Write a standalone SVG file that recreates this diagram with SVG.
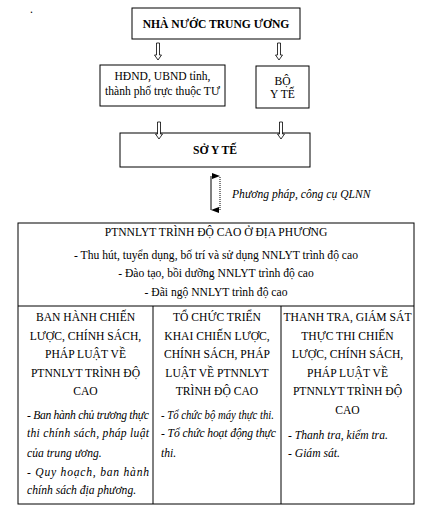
<svg xmlns="http://www.w3.org/2000/svg" width="431" height="515" viewBox="0 0 431 515">
<defs>
<style>
.box{fill:#fff;stroke:#000;stroke-width:1}
.t{font-size:11.6px;fill:#000}
.c{text-anchor:middle}
.b{font-weight:bold}
.i{font-style:italic}
.hollow{fill:#fff;stroke:#000;stroke-width:0.8}
</style>
<marker id="ah" viewBox="0 0 6 8" refX="3" refY="8" markerWidth="6" markerHeight="8" orient="auto-start-reverse" markerUnits="userSpaceOnUse">
<path d="M0,0 L3,8 L6,0 Z" fill="#000"/>
</marker>
<path id="hol" d="M-1.5,0 H1.5 V12 H3.5 L0,17 L-3.5,12 H-1.5 Z"/>
</defs>
<rect width="431" height="515" fill="#fff"/>
<g font-family="'Liberation Serif', 'Times New Roman', 'DejaVu Serif', serif">
<text class="t" x="30" y="13" font-size="8">.</text>

<g id="n_top">
<rect class="box" x="132" y="8" width="168" height="31"/>
<text class="t c b" x="216" y="28" font-size="11.4">NHÀ NƯỚC TRUNG ƯƠNG</text>
</g>
<g id="n_hdnd">
<rect class="box" x="100" y="65" width="125" height="41"/>
<text class="t c" x="162.5" y="80">HĐND, UBND tỉnh,</text>
<text class="t c" x="162.5" y="95">thành phố trực thuộc TƯ</text>
</g>
<g id="n_byt">
<rect class="box" x="256" y="66" width="53" height="42"/>
<text class="t c" x="282.5" y="85">BỘ</text>
<text class="t c" x="282.5" y="98">Y TẾ</text>
</g>
<g id="n_syt">
<rect class="box" x="120" y="133" width="190" height="34"/>
<text class="t c b" x="215" y="154" font-size="11.2">SỞ Y TẾ</text>
</g>

<g id="connectors">
<use href="#hol" class="hollow" x="158" y="43"/>
<use href="#hol" class="hollow" x="279" y="43"/>
<use href="#hol" class="hollow" x="159" y="122"/>
<use href="#hol" class="hollow" x="281" y="122"/>
<line x1="211" y1="176" x2="211" y2="210" stroke="#000" stroke-width="1" marker-end="url(#ah)"/>
<line x1="220" y1="210" x2="220" y2="176" stroke="#000" stroke-width="1" stroke-dasharray="1,1" marker-end="url(#ah)"/>
<text class="t i" x="232" y="198" font-size="8.3">Phương pháp, công cụ QLNN</text>
</g>

<g id="n_main">
<rect class="box" x="18" y="223" width="396" height="281"/>
<line x1="18" y1="306" x2="414" y2="306" stroke="#000"/>
<line x1="153" y1="306" x2="153" y2="504" stroke="#000"/>
<line x1="281" y1="306" x2="281" y2="504" stroke="#000"/>
<text class="t c" x="216" y="236">PTNNLYT TRÌNH ĐỘ CAO Ở ĐỊA PHƯƠNG</text>
<text class="t c" x="216" y="259">- Thu hút, tuyển dụng, bố trí và sử dụng NNLYT trình độ cao</text>
<text class="t c" x="216" y="277">- Đào tạo, bồi dưỡng NNLYT trình độ cao</text>
<text class="t c" x="216" y="296">- Đãi ngộ NNLYT trình độ cao</text>
</g>

<g id="n_col1">
<text class="t c" x="85.5" y="321">BAN HÀNH CHIẾN</text>
<text class="t c" x="85.5" y="339.5">LƯỢC, CHÍNH SÁCH,</text>
<text class="t c" x="85.5" y="358">PHÁP LUẬT VỀ</text>
<text class="t c" x="85.5" y="376.5">PTNNLYT TRÌNH ĐỘ</text>
<text class="t c" x="85.5" y="395">CAO</text>
<text class="t i" x="27" y="419" font-size="10" textLength="122" lengthAdjust="spacing">- Ban hành chủ trương thực</text>
<text class="t i" x="27" y="437" font-size="10" textLength="122" lengthAdjust="spacing">thi chính sách, pháp luật</text>
<text class="t i" x="27" y="457" font-size="10">của trung ương.</text>
<text class="t i" x="27" y="476" font-size="10" textLength="122" lengthAdjust="spacing">- Quy hoạch, ban hành</text>
<text class="t i" x="27" y="494" font-size="10">chính sách địa phương.</text>
</g>

<g id="n_col2">
<text class="t c" x="217" y="321">TỔ CHỨC TRIỂN</text>
<text class="t c" x="217" y="339.5">KHAI CHIẾN LƯỢC,</text>
<text class="t c" x="217" y="358">CHÍNH SÁCH, PHÁP</text>
<text class="t c" x="217" y="376.5">LUẬT VỀ PTNNLYT</text>
<text class="t c" x="217" y="395">TRÌNH ĐỘ CAO</text>
<text class="t i" x="161" y="419" font-size="9.8" textLength="113" lengthAdjust="spacingAndGlyphs">- Tổ chức bộ máy thực thi.</text>
<text class="t i" x="161" y="437" font-size="10" textLength="115" lengthAdjust="spacing">- Tổ chức hoạt động thực</text>
<text class="t i" x="161" y="457" font-size="10">thi.</text>
</g>

<g id="n_col3">
<text class="t c" x="347.5" y="321">THANH TRA, GIÁM SÁT</text>
<text class="t c" x="347.5" y="339.5">THỰC THI CHIẾN</text>
<text class="t c" x="347.5" y="358">LƯỢC, CHÍNH SÁCH,</text>
<text class="t c" x="347.5" y="376.5">PHÁP LUẬT VỀ</text>
<text class="t c" x="347.5" y="395">PTNNLYT TRÌNH ĐỘ</text>
<text class="t c" x="347.5" y="413.5">CAO</text>
<text class="t i" x="288" y="439" font-size="10">- Thanh tra, kiểm tra.</text>
<text class="t i" x="288" y="457" font-size="10">- Giám sát.</text>
</g>
</g>
</svg>
